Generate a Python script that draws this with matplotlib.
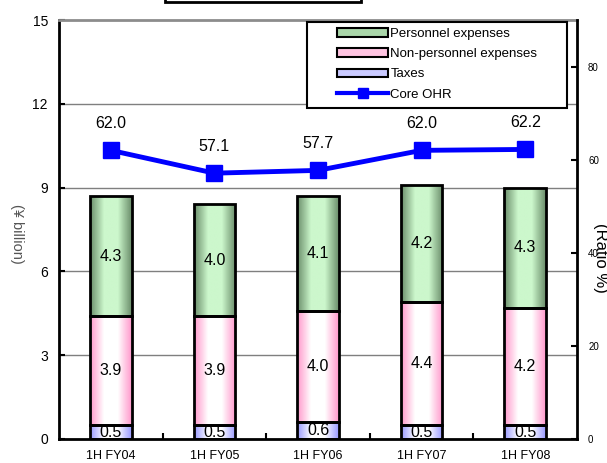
import numpy as np
import matplotlib
matplotlib.use("Agg")
import matplotlib.pyplot as plt
from matplotlib.colors import LinearSegmentedColormap
from matplotlib.patches import Rectangle
from matplotlib.lines import Line2D

plt.rcParams['font.family'] = ['Liberation Sans', 'DejaVu Sans']

periods = ['1H FY04', '1H FY05', '1H FY06', '1H FY07', '1H FY08']
taxes = [0.5, 0.5, 0.6, 0.5, 0.5]
non_personnel = [3.9, 3.9, 4.0, 4.4, 4.2]
personnel = [4.3, 4.0, 4.1, 4.2, 4.3]
core_ohr = [62.0, 57.1, 57.7, 62.0, 62.2]

# edge colour, centre colour for the horizontal gradients
grad = {
    'personnel': ('#6b8e6b', '#ccf7cc'),
    'non_personnel': ('#ff99cc', '#ffffff'),
    'taxes': ('#9999ff', '#ffffff'),
}

fig = plt.figure(figsize=(6.07, 4.63), dpi=100)
ax = fig.add_axes([59 / 607, 24 / 463, 518 / 607, 419 / 463])
ax2 = ax.twinx()

x = np.arange(len(periods))
w = 0.40


def gradient_bar(xc, bottom, height, colors):
    cmap = LinearSegmentedColormap.from_list('g', [colors[0], colors[1], colors[1], colors[0]])
    img = np.linspace(0, 1, 64).reshape(1, -1)
    im = ax.imshow(img, cmap=cmap, aspect='auto', interpolation='bilinear',
                   extent=[xc - w / 2, xc + w / 2, bottom, bottom + height], zorder=2)
    rect = Rectangle((xc - w / 2, bottom), w, height, facecolor='none',
                     edgecolor='black', linewidth=2, zorder=3)
    ax.add_patch(rect)
    im.set_clip_path(rect)


for i in range(len(periods)):
    b = 0
    for vals, key in [(taxes, 'taxes'), (non_personnel, 'non_personnel'), (personnel, 'personnel')]:
        gradient_bar(x[i], b, vals[i], grad[key])
        ax.text(x[i], b + vals[i] / 2, f'{vals[i]:.1f}', ha='center', va='center',
                fontsize=11.5, zorder=4)
        b += vals[i]

ax.set_xlim(-0.5, 4.5)
ax.set_ylim(0, 15)
ax.set_yticks([0, 3, 6, 9, 12, 15])
ax.set_xticks(x)
ax.set_xticklabels(periods, fontsize=9)
ax.set_xticks(np.arange(0.5, 4.5, 1), minor=True)
ax.tick_params(axis='x', which='major', length=0, pad=8)
ax.tick_params(axis='x', which='minor', length=4, width=1.5, direction='in')
ax.tick_params(axis='y', direction='in', length=4, width=1.5, labelsize=10, pad=8)
for yv in [3, 6, 9, 12]:
    ax.axhline(yv, color='#7f7f7f', linewidth=1, zorder=1)
ax.set_ylabel('(¥ billion)', rotation=270, fontsize=10.5, color='#555555',
              va='center', ha='center')
ax.yaxis.set_label_coords(-0.081, 0.49)

for s in ['left', 'bottom']:
    ax.spines[s].set_linewidth(2)
ax.spines['top'].set_color('#8c8c8c')
ax.spines['top'].set_linewidth(2)
ax.spines['right'].set_visible(False)

ax2.plot(x, core_ohr, color='#0000ff', linewidth=3.5, marker='s', markersize=11,
         zorder=5)
for xi, v in zip(x, core_ohr):
    ax2.annotate(f'{v:.1f}', (xi, v), xytext=(0, 14), textcoords='offset points',
                 ha='center', va='bottom', fontsize=11.5)
ax2.set_ylim(0, 90)
ax2.set_yticks([0, 20, 40, 60, 80])
ax2.tick_params(axis='y', direction='in', length=4, width=1.5, labelsize=7, pad=8)
ax2.spines['right'].set_linewidth(2)
ax2.spines['top'].set_visible(False)
ax2.spines['left'].set_visible(False)
ax2.spines['bottom'].set_visible(False)
ax2.set_ylabel('(Ratio %)', rotation=270, fontsize=12, va='center', ha='center')
ax2.yaxis.set_label_coords(1.046, 0.432)

handles = [
    Rectangle((0, 0), 1, 1, facecolor='#a9d6a9', edgecolor='black', linewidth=1.5),
    Rectangle((0, 0), 1, 1, facecolor='#ffc4e1', edgecolor='black', linewidth=1.5),
    Rectangle((0, 0), 1, 1, facecolor='#c9c9ff', edgecolor='black', linewidth=1.5),
    Line2D([0], [0], color='#0000ff', linewidth=3, marker='s', markersize=7),
]
labels = ['Personnel expenses', 'Non-personnel expenses', 'Taxes', 'Core OHR']
leg = ax2.legend(handles, labels, loc='upper left',
                 bbox_to_anchor=(337 / 607, 1 - 28 / 463),
                 bbox_transform=fig.transFigure,
                 fontsize=9.5, frameon=False, handlelength=3.9,
                 handleheight=0.6, handletextpad=0.15, labelspacing=0.62,
                 borderpad=0, borderaxespad=0)
leg.set_zorder(10)
# legend frame drawn by hand (wide left margin in the original)
frame = Rectangle((307 / 607, 1 - 108 / 463), 260 / 607, 86 / 463,
                  transform=fig.transFigure, facecolor='white', edgecolor='black',
                  linewidth=1.5, zorder=9)
ax2.add_artist(frame)
frame.set_clip_on(False)

# box of the cut-off title above the plot
fig.patches.append(Rectangle((165 / 607, 461.5 / 463), 196 / 607, 20 / 463,
                             transform=fig.transFigure, facecolor='white',
                             edgecolor='black', linewidth=2))

fig.savefig('out.png', dpi=100)
